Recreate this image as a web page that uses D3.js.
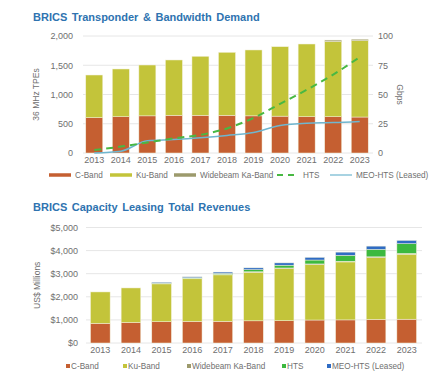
<!DOCTYPE html>
<html>
<head>
<meta charset="utf-8">
<script src="https://cdn.jsdelivr.net/npm/d3@7"></script>
<style>
  body { margin: 0; background: #fff; }
  svg { font-family: "Liberation Sans", Arial, sans-serif; }
</style>
</head>
<body>
<svg id="chart" width="432" height="388"></svg>
<script>
// data
const years = ["2013","2014","2015","2016","2017","2018","2019","2020","2021","2022","2023"];

// chart 1: transponders (36 MHz TPEs) + bandwidth (Gbps)
const tpeCBand     = [605, 620, 635, 645, 645, 645, 635, 630, 620, 620, 615];
const tpeKuBand    = [728, 816, 869, 945, 1008, 1076, 1126, 1187, 1243, 1285, 1305];
const tpeWidebeam  = [0, 0, 0, 0, 0, 0, 0, 0, 0, 25, 25];
const gbpsHts      = [2.5, 5.5, 9, 12.5, 15.5, 21, 30, 42, 54, 67, 82];
const gbpsMeo      = [0, 1.5, 10.5, 11.5, 13, 15, 17.5, 23.5, 25.5, 26, 27];
const tpeTicks     = [0, 500, 1000, 1500, 2000];
const gbpsTicks    = [0, 25, 50, 75, 100];

// chart 2: revenues (US$ millions)
const revCBand     = [850, 890, 920, 935, 940, 960, 965, 995, 1000, 1020, 1030];
const revKuBand    = [1360, 1493, 1640, 1845, 2010, 2103, 2258, 2402, 2510, 2680, 2813];
const revWidebeam  = [0, 0, 15, 20, 20, 20, 25, 25, 30, 30, 35];
const revHts       = [0, 0, 15, 25, 40, 90, 120, 170, 250, 320, 420];
const revMeo       = [0, 0, 40, 40, 60, 80, 100, 116, 144, 144, 144];
const revTicks     = [0, 1000, 2000, 3000, 4000, 5000];

const bandKeys = ["C-Band", "Ku-Band", "Widebeam Ka-Band", "HTS", "MEO-HTS (Leased)"];
const colors = {
  "C-Band": "#c55f31",
  "Ku-Band": "#c3c43a",
  "Widebeam Ka-Band": "#9c9a6c",
  "HTS": "#3cb93f",
  "MEO-HTS (Leased)": "#2f6cc4"
};
const titleColor = "#2e73b0";
const gridColor = "#e6e6e6";
const textColor = "#6f6f6f";

const svg = d3.select("#chart");

// ---------- chart 1 ----------
const c1 = { left: 81, right: 373, top: 36, bottom: 153 };

svg.append("text")
  .attr("x", 33).attr("y", 20.5)
  .attr("font-size", 11).attr("font-weight", "bold")
  .attr("word-spacing", 1.5)
  .attr("fill", titleColor)
  .text("BRICS Transponder & Bandwidth Demand");

const x1 = d3.scaleBand().domain(years).range([c1.left, c1.right]).paddingInner(0.36).paddingOuter(0.18);
const y1 = d3.scaleLinear().domain([0, 2000]).range([c1.bottom, c1.top]);
const y1r = d3.scaleLinear().domain([0, 100]).range([c1.bottom, c1.top]);

// gridlines
svg.append("g")
  .selectAll("line")
  .data(tpeTicks)
  .join("line")
    .attr("x1", c1.left + 2).attr("x2", c1.right)
    .attr("y1", d => y1(d)).attr("y2", d => y1(d))
    .attr("stroke", gridColor).attr("stroke-width", 1);

const rows1 = years.map((yr, i) => ({
  year: yr,
  "C-Band": tpeCBand[i],
  "Ku-Band": tpeKuBand[i],
  "Widebeam Ka-Band": tpeWidebeam[i]
}));
const stack1 = d3.stack().keys(["C-Band", "Ku-Band", "Widebeam Ka-Band"])(rows1);

svg.append("g")
  .selectAll("g")
  .data(stack1)
  .join("g")
    .attr("fill", d => colors[d.key])
  .selectAll("rect")
  .data(d => d)
  .join("rect")
    .attr("x", d => x1(d.data.year))
    .attr("width", x1.bandwidth())
    .attr("y", d => y1(d[1]))
    .attr("height", d => y1(d[0]) - y1(d[1]))
    .attr("stroke", "#f3f1dc").attr("stroke-width", 0.5);

// lines on right axis
const line1 = d3.line()
  .x((d, i) => x1(years[i]) + x1.bandwidth() / 2)
  .y(d => y1r(d))
  .curve(d3.curveMonotoneX);

svg.append("path")
  .datum(gbpsMeo)
  .attr("fill", "none")
  .attr("stroke", "#6fb6cf")
  .attr("stroke-width", 1.5)
  .attr("d", line1);

svg.append("path")
  .datum(gbpsHts)
  .attr("fill", "none")
  .attr("stroke", "#48b843")
  .attr("stroke-width", 2)
  .attr("stroke-dasharray", "7,5")
  .attr("d", line1);

// axes
const ax1 = svg.append("g")
  .attr("transform", `translate(${c1.left - 1},0)`)
  .call(d3.axisLeft(y1).tickValues(tpeTicks).tickFormat(d3.format(",")).tickSize(0).tickPadding(7));
const ax1r = svg.append("g")
  .attr("transform", `translate(${c1.right + 1},0)`)
  .call(d3.axisRight(y1r).tickValues(gbpsTicks).tickSize(0).tickPadding(4));
const ax1b = svg.append("g")
  .attr("transform", `translate(0,${c1.bottom})`)
  .call(d3.axisBottom(x1).tickSize(0).tickPadding(4));
[ax1, ax1r, ax1b].forEach(a => {
  a.select(".domain").remove();
  a.selectAll("text").attr("font-size", 9).attr("fill", textColor);
});

svg.append("text")
  .attr("transform", `translate(39,${(c1.top + c1.bottom) / 2}) rotate(-90)`)
  .attr("text-anchor", "middle")
  .attr("font-size", 8.5).attr("fill", textColor)
  .text("36 MHz TPEs");

svg.append("text")
  .attr("transform", `translate(397,${(c1.top + c1.bottom) / 2}) rotate(90)`)
  .attr("text-anchor", "middle")
  .attr("font-size", 8.5).attr("fill", textColor)
  .text("Gbps");

// legend 1
const legend1 = [
  { key: "C-Band", x: 49, type: "bar", color: colors["C-Band"] },
  { key: "Ku-Band", x: 110, type: "bar", color: colors["Ku-Band"] },
  { key: "Widebeam Ka-Band", x: 174, type: "bar", color: colors["Widebeam Ka-Band"] },
  { key: "HTS", x: 277, type: "dash", color: "#48b843" },
  { key: "MEO-HTS (Leased)", x: 330, type: "line", color: "#6fb6cf" }
];
const lg1 = svg.append("g").attr("transform", "translate(0,175)");
lg1.selectAll("line")
  .data(legend1)
  .join("line")
    .attr("x1", d => d.x).attr("x2", d => d.x + 22)
    .attr("y1", 0).attr("y2", 0)
    .attr("stroke", d => d.color)
    .attr("stroke-width", d => d.type === "bar" ? 3.5 : (d.type === "dash" ? 2 : 1.2))
    .attr("stroke-dasharray", d => d.type === "dash" ? "6,5" : null);
lg1.selectAll("text")
  .data(legend1)
  .join("text")
    .attr("x", d => d.x + 26)
    .attr("y", 3)
    .attr("font-size", 8.2).attr("fill", textColor)
    .text(d => d.key);

// ---------- chart 2 ----------
const c2 = { left: 85, right: 422, top: 227.5, bottom: 343 };

svg.append("text")
  .attr("x", 33).attr("y", 211)
  .attr("font-size", 11).attr("font-weight", "bold")
  .attr("word-spacing", 1.5)
  .attr("fill", titleColor)
  .text("BRICS Capacity Leasing Total Revenues");

const x2 = d3.scaleBand().domain(years).range([c2.left, c2.right]).paddingInner(0.36).paddingOuter(0.18);
const y2 = d3.scaleLinear().domain([0, 5000]).range([c2.bottom, c2.top]);

svg.append("g")
  .selectAll("line")
  .data(revTicks)
  .join("line")
    .attr("x1", c2.left + 1).attr("x2", c2.right)
    .attr("y1", d => y2(d)).attr("y2", d => y2(d))
    .attr("stroke", gridColor).attr("stroke-width", 1);

const rows2 = years.map((yr, i) => ({
  year: yr,
  "C-Band": revCBand[i],
  "Ku-Band": revKuBand[i],
  "Widebeam Ka-Band": revWidebeam[i],
  "HTS": revHts[i],
  "MEO-HTS (Leased)": revMeo[i]
}));
const stack2 = d3.stack().keys(bandKeys)(rows2);

svg.append("g")
  .selectAll("g")
  .data(stack2)
  .join("g")
    .attr("fill", d => colors[d.key])
  .selectAll("rect")
  .data(d => d)
  .join("rect")
    .attr("x", d => x2(d.data.year))
    .attr("width", x2.bandwidth())
    .attr("y", d => y2(d[1]))
    .attr("height", d => y2(d[0]) - y2(d[1]))
    .attr("stroke", "#f3f1dc").attr("stroke-width", 0.5);

const ax2 = svg.append("g")
  .attr("transform", `translate(${c2.left},0)`)
  .call(d3.axisLeft(y2).tickValues(revTicks).tickFormat(d => "$" + d3.format(",")(d)).tickSize(0).tickPadding(7));
const ax2b = svg.append("g")
  .attr("transform", `translate(0,${c2.bottom})`)
  .call(d3.axisBottom(x2).tickSize(0).tickPadding(4));
[ax2, ax2b].forEach(a => {
  a.select(".domain").remove();
  a.selectAll("text").attr("font-size", 9).attr("fill", textColor);
});

svg.append("text")
  .attr("transform", `translate(40,${(c2.top + c2.bottom) / 2}) rotate(-90)`)
  .attr("text-anchor", "middle")
  .attr("font-size", 8.5).attr("fill", textColor)
  .text("US$ Millions");

// legend 2
const legend2X = [66, 123, 187, 282, 327];
const lg2 = svg.append("g").attr("transform", "translate(0,366)");
lg2.selectAll("rect")
  .data(bandKeys)
  .join("rect")
    .attr("x", (d, i) => legend2X[i]).attr("y", -2)
    .attr("width", 4).attr("height", 4)
    .attr("fill", d => colors[d]);
lg2.selectAll("text")
  .data(bandKeys)
  .join("text")
    .attr("x", (d, i) => legend2X[i] + 5)
    .attr("y", 3)
    .attr("font-size", 8.2).attr("fill", textColor)
    .text(d => d);
</script>
</body>
</html>
